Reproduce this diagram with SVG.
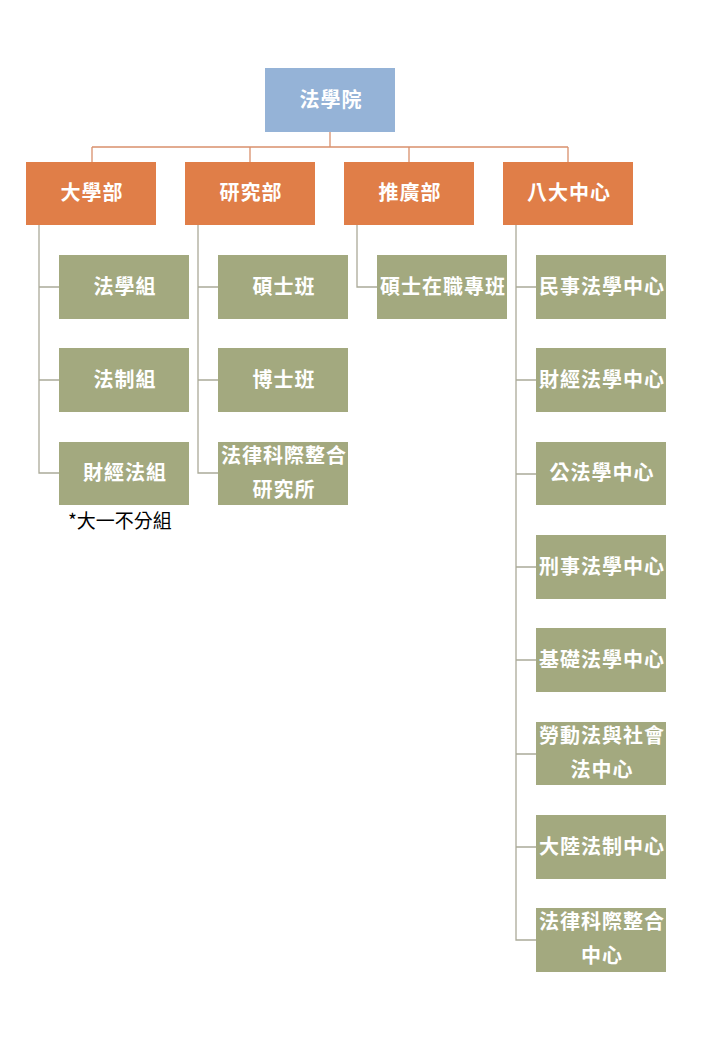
<svg xmlns="http://www.w3.org/2000/svg" width="720" height="1040" viewBox="0 0 720 1040">
<style>
.t{font-family:"Noto Sans CJK TC","Noto Sans CJK SC",sans-serif;font-size:20px;letter-spacing:1px;font-weight:bold;fill:#fff;text-anchor:middle}
.root{fill:#95B3D7}
.dept{fill:#E07E48}
.leaf{fill:#A3A97F}
.c1{stroke:#D9906C;stroke-width:1.3;fill:none}
.c2{stroke:#ABAA99;stroke-width:1.3;fill:none}
.note{font-family:"Noto Sans CJK TC","Noto Sans CJK SC",sans-serif;font-size:19px;fill:#000}
</style>
<rect width="720" height="1040" fill="#fff"/>
<g id="connectors">
<path class="c1" d="M330 132V147M92 147H568M92 147V162M250 147V162M409 147V162M568 147V162"/>
<path class="c2" d="M39 225V473H59M39 287H59M39 380H59"/>
<path class="c2" d="M198 225V473H218M198 287H218M198 380H218"/>
<path class="c2" d="M357 225V287H377"/>
<path class="c2" d="M516 225V940H536M516 287H536M516 380H536M516 474H536M516 567H536M516 660H536M516 754H536M516 847H536"/>
</g>
<g id="n-root"><rect class="root" x="265" y="68" width="130" height="64"/><text class="t" x="331" y="107">法學院</text></g>
<g id="n-d1"><rect class="dept" x="26" y="162" width="130" height="63"/><text class="t" x="92" y="200">大學部</text></g>
<g id="n-d2"><rect class="dept" x="185" y="162" width="130" height="63"/><text class="t" x="251" y="200">研究部</text></g>
<g id="n-d3"><rect class="dept" x="344" y="162" width="130" height="63"/><text class="t" x="410" y="200">推廣部</text></g>
<g id="n-d4"><rect class="dept" x="503" y="162" width="130" height="63"/><text class="t" x="569" y="200">八大中心</text></g>
<g id="n-a1"><rect class="leaf" x="59" y="255" width="130" height="64"/><text class="t" x="125" y="294">法學組</text></g>
<g id="n-a2"><rect class="leaf" x="59" y="348" width="130" height="64"/><text class="t" x="125" y="387">法制組</text></g>
<g id="n-a3"><rect class="leaf" x="59" y="442" width="130" height="63"/><text class="t" x="125" y="480">財經法組</text></g>
<text class="note" x="68" y="528">*大一不分組</text>
<g id="n-b1"><rect class="leaf" x="218" y="255" width="130" height="64"/><text class="t" x="284" y="294">碩士班</text></g>
<g id="n-b2"><rect class="leaf" x="218" y="348" width="130" height="64"/><text class="t" x="284" y="387">博士班</text></g>
<g id="n-b3"><rect class="leaf" x="218" y="442" width="130" height="63"/><text class="t" x="284" y="463">法律科際整合</text><text class="t" x="284" y="497">研究所</text></g>
<g id="n-c1"><rect class="leaf" x="377" y="255" width="130" height="64"/><text class="t" x="443" y="294">碩士在職專班</text></g>
<g id="n-e1"><rect class="leaf" x="536" y="255" width="130" height="64"/><text class="t" x="602" y="294">民事法學中心</text></g>
<g id="n-e2"><rect class="leaf" x="536" y="348" width="130" height="64"/><text class="t" x="602" y="387">財經法學中心</text></g>
<g id="n-e3"><rect class="leaf" x="536" y="442" width="130" height="63"/><text class="t" x="602" y="480">公法學中心</text></g>
<g id="n-e4"><rect class="leaf" x="536" y="535" width="130" height="64"/><text class="t" x="602" y="574">刑事法學中心</text></g>
<g id="n-e5"><rect class="leaf" x="536" y="628" width="130" height="64"/><text class="t" x="602" y="667">基礎法學中心</text></g>
<g id="n-e6"><rect class="leaf" x="536" y="722" width="130" height="63"/><text class="t" x="602" y="743">勞動法與社會</text><text class="t" x="602" y="777">法中心</text></g>
<g id="n-e7"><rect class="leaf" x="536" y="815" width="130" height="64"/><text class="t" x="602" y="854">大陸法制中心</text></g>
<g id="n-e8"><rect class="leaf" x="536" y="908" width="130" height="64"/><text class="t" x="602" y="929">法律科際整合</text><text class="t" x="602" y="963">中心</text></g>
</svg>
